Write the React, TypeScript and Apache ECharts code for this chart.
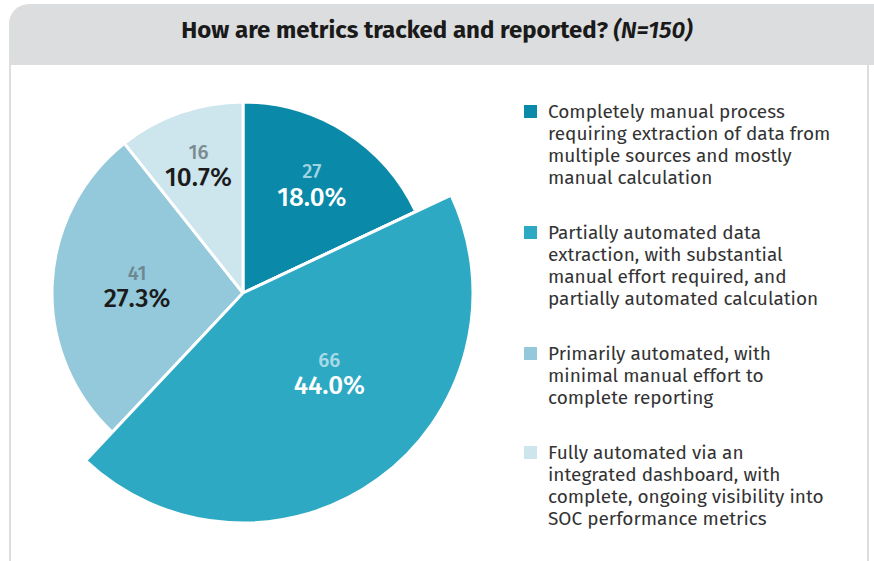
import React, { useEffect, useRef } from "react";
import * as echarts from "echarts";

// ---- data ----
const categories: string[] = [
  "Completely manual process\nrequiring extraction of data from\nmultiple sources and mostly\nmanual calculation",
  "Partially automated data\nextraction, with substantial\nmanual effort required, and\npartially automated calculation",
  "Primarily automated, with\nminimal manual effort to\ncomplete reporting",
  "Fully automated via an\nintegrated dashboard, with\ncomplete, ongoing visibility into\nSOC performance metrics",
];
const counts: number[] = [27, 66, 41, 16];
const enlarged: boolean[] = [false, true, false, false];
const titleMain = "How are metrics tracked and reported?";
const titleNote = "(N=150)";

// ---- styles ----
const colors = ["#0A8AA8", "#2EA9C4", "#93C9DA", "#CDE5EC"];
const countColors = ["#9ED3E2", "#A9D9E6", "#6E8891", "#7C8B91"];
const pctColors = ["#FFFFFF", "#FFFFFF", "#1B1B1B", "#1B1B1B"];
const labelNudge: number[][] = [[3, -5], [14, -20], [17, -2], [-4, -12]];
const FONT = "'Fira Sans', 'Noto Sans', sans-serif";

export default function App() {
  const ref = useRef<HTMLDivElement>(null);
  useEffect(() => {
    document.body.style.margin = "0";
    const chart = echarts.init(ref.current!, undefined, { renderer: "svg" });
    const total = counts.reduce((a, b) => a + b, 0);
    const center = [243, 293];
    const base = {
      type: "pie" as const,
      center,
      startAngle: 90,
      clockwise: true,
      silent: true,
      avoidLabelOverlap: false,
      labelLine: { show: false },
      emphasis: { disabled: true },
    };
    const LH = 22;
    const rich: any = {
      g: { width: 11, lineHeight: LH },
      ind: { width: 24, lineHeight: LH },
      t: { fontSize: 19, color: "#333333", lineHeight: LH, fontFamily: FONT },
    };
    colors.forEach((c, i) => {
      rich["s" + i] = { width: 13, height: 13, backgroundColor: c, lineHeight: LH };
    });
    chart.setOption({
      animation: false,
      graphic: [
        {
          type: "rect",
          z: 0,
          shape: { x: 9, y: 4, width: 880, height: 61, r: [20, 0, 0, 0] },
          style: { fill: "#DCDDDE" },
        },
        {
          type: "line",
          z: 0,
          shape: { x1: 10, y1: 60, x2: 10, y2: 570 },
          style: { stroke: "#DDDDDD", lineWidth: 2 },
        },
        {
          type: "line",
          z: 0,
          shape: { x1: 868, y1: 65, x2: 868, y2: 570 },
          style: { stroke: "#DDDDDD", lineWidth: 2 },
        },
      ],
      title: {
        text: `{b|${titleMain}} {i|${titleNote}}`,
        left: "center",
        top: 11,
        textStyle: {
          rich: {
            b: { fontSize: 24, fontWeight: "bold", color: "#1A1A1A", fontFamily: FONT, lineHeight: 28 },
            i: { fontSize: 24, fontWeight: 600, fontStyle: "italic", color: "#1A1A1A", fontFamily: FONT, lineHeight: 28 },
          },
        },
      },
      legend: {
        orient: "vertical",
        left: 518,
        top: 102,
        padding: 0,
        itemGap: 36,
        itemWidth: 0,
        itemHeight: 14,
        icon: "rect",
        selectedMode: false,
        data: categories,
        formatter: (name: string) => {
          const i = categories.indexOf(name);
          return name
            .split("\n")
            .map((l, k) => (k === 0 ? `{s${i}|}{g|}` : `{ind|}`) + `{t|${l}}`)
            .join("\n");
        },
        textStyle: { rich },
      },
      series: [
        {
          ...base,
          name: "base",
          radius: [0, 191],
          label: { show: false },
          itemStyle: { borderColor: "#FFFFFF", borderWidth: 3 },
          data: categories.map((n, i) => ({ name: n, value: counts[i], itemStyle: { color: colors[i] } })),
        },
        {
          ...base,
          name: "enlarged",
          radius: [0, 230],
          label: { show: false },
          data: categories.map((n, i) => ({
            name: n,
            value: counts[i],
            itemStyle: enlarged[i]
              ? { color: colors[i], borderColor: "#FFFFFF", borderWidth: 3 }
              : { color: "rgba(0,0,0,0)", borderWidth: 0 },
          })),
        },
        {
          ...base,
          name: "labels",
          radius: [0, 240],
          itemStyle: { color: "rgba(0,0,0,0)", borderWidth: 0 },
          data: categories.map((n, i) => ({
            name: n,
            value: counts[i],
            label: {
              show: true,
              position: "inside",
              offset: labelNudge[i],
              formatter: (p: any) => `{c|${p.value}}\n{p|${((p.value / total) * 100).toFixed(1)}%}`,
              rich: {
                c: { fontSize: 20, fontWeight: 500, color: countColors[i], fontFamily: FONT, lineHeight: 26 },
                p: { fontSize: 26, fontWeight: 500, color: pctColors[i], fontFamily: FONT, lineHeight: 26 },
              },
            },
          })),
        },
      ],
    });
    return () => chart.dispose();
  }, []);
  return <div ref={ref} style={{ width: 874, height: 561 }} />;
}
